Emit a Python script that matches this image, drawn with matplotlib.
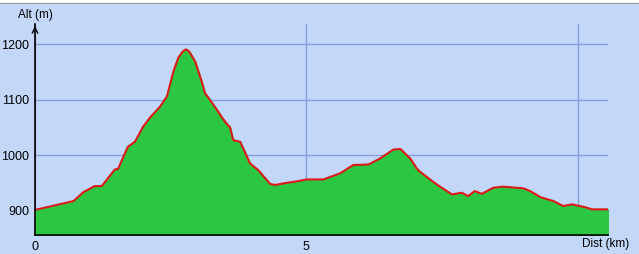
import matplotlib
matplotlib.use("Agg")
import matplotlib.pyplot as plt
from matplotlib.patches import Rectangle
from matplotlib.lines import Line2D

# elevation profile
dist_km = [0.0, 0.71, 0.89, 1.10, 1.23, 1.47, 1.53, 1.71, 1.84, 1.99, 2.12, 2.30,
           2.43, 2.55, 2.64, 2.72, 2.78, 2.84, 2.95, 3.07, 3.13, 3.22, 3.35, 3.45,
           3.56, 3.59, 3.65, 3.78, 3.96, 4.11, 4.33, 4.42, 4.64, 4.85, 5.00, 5.31,
           5.62, 5.86, 6.14, 6.36, 6.60, 6.73, 6.91, 7.03, 7.09, 7.21, 7.33, 7.46,
           7.68, 7.86, 7.98, 8.10, 8.23, 8.44, 8.62, 9.00, 9.12, 9.31, 9.55, 9.73,
           9.89, 10.13, 10.26, 10.56]
alt_m = [901, 917, 933, 944, 944, 974, 975, 1015, 1024, 1051, 1068, 1087,
         1106, 1151, 1176, 1187, 1191, 1187, 1169, 1133, 1112, 1100, 1082, 1067,
         1053, 1051, 1027, 1024, 985, 973, 948, 946, 950, 953, 956, 956,
         967, 982, 983, 994, 1010, 1011, 994, 976, 970, 961, 952, 943,
         929, 932, 926, 935, 930, 941, 943, 940, 935, 924, 917, 908,
         911, 906, 902, 902]

y_ticks = [900, 1000, 1100, 1200]
x_ticks = [0, 5, 10]
x_labels = ["0", "5", ""]

W, H = 639, 254
bg = "#c3d8f8"
fig = plt.figure(figsize=(W / 100, H / 100), dpi=100, facecolor=bg)
plt.rcParams["font.family"] = ["Liberation Sans", "DejaVu Sans"]

ax = fig.add_axes([35 / W, (H - 235) / H, (608.3 - 35) / W, (235 - 24) / H])
ax.set_facecolor(bg)
ax.set_xlim(0, 10.56)
ax.set_ylim(855.7, 1236.7)

ax.fill_between(dist_km, alt_m, 855.7, color="#2bc742", zorder=2)
ax.plot(dist_km, alt_m, color="#dc1a1a", lw=1.5, zorder=3)

ax.set_yticks(y_ticks)
ax.set_xticks(x_ticks)
ax.set_xticklabels(x_labels)
ax.tick_params(length=0, labelsize=9, pad=4)
ax.grid(True, color="#8a9ee0", lw=1)
ax.set_axisbelow(True)

for s in ["top", "right"]:
    ax.spines[s].set_visible(False)
ax.spines["left"].set_linewidth(1.2)
ax.spines["bottom"].set_linewidth(1.2)
ax.spines["left"].set_zorder(4)
ax.spines["bottom"].set_zorder(4)

# arrow tip on the altitude axis
ax.annotate("", xy=(0, 1238), xytext=(0, 1225),
            arrowprops=dict(arrowstyle="->", color="black", lw=1.0),
            annotation_clip=False)

fig.text(35 / W, 1 - 15 / H, "Alt (m)", ha="center", va="center", fontsize=8.5)
fig.text(629 / W, 1 - 244 / H, "Dist (km)", ha="right", va="center", fontsize=8.5)

# window border at the top
fig.patches.append(Rectangle((0, 1 - 3 / H), 1, 3 / H, transform=fig.transFigure,
                             color="white", zorder=0))
fig.lines.append(Line2D([0, 1], [1 - 2.5 / H, 1 - 2.5 / H], transform=fig.transFigure,
                        color="#a0a0a0", lw=1))

fig.savefig("out.png", dpi=100, facecolor=bg)
